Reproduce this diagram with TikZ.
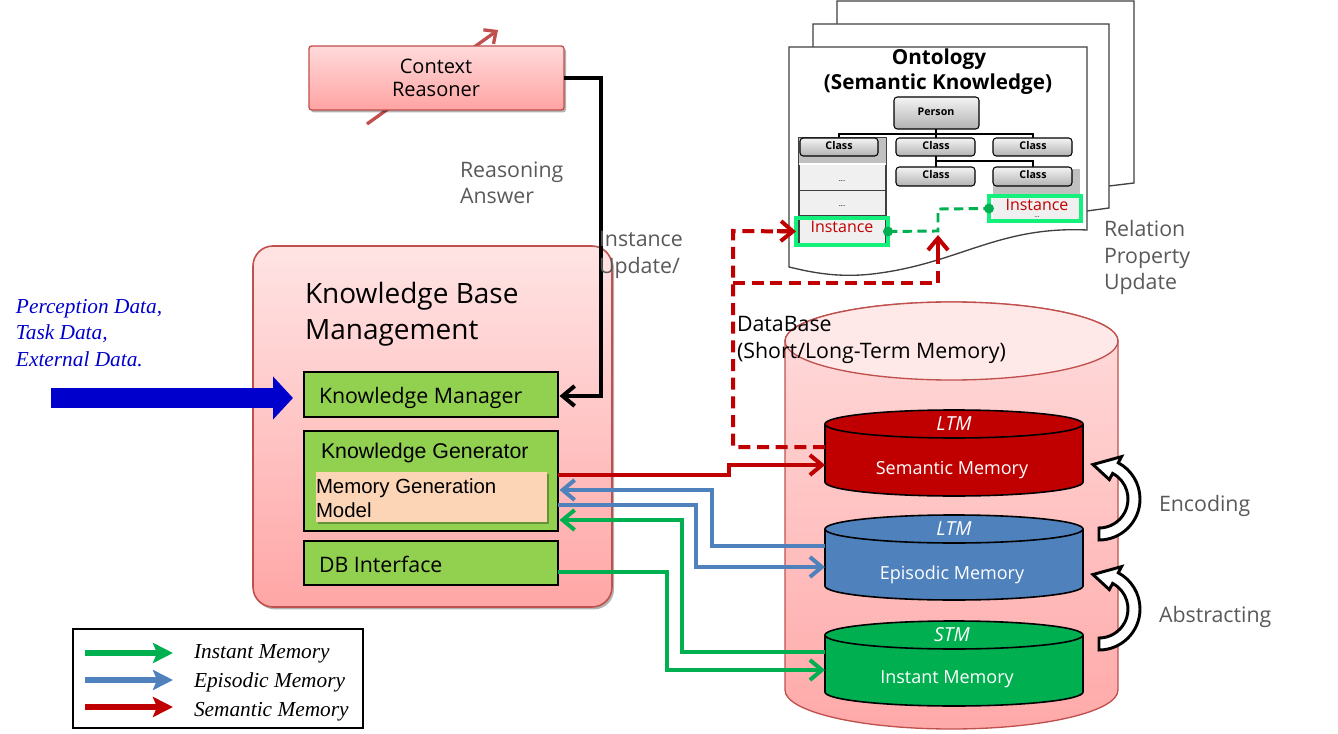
\documentclass[tikz,border=0pt]{standalone}
\usepackage{fontspec}
\setmainfont{Open Sans}
\newfontfamily\arialf{Liberation Sans}
\newfontfamily\timesf{Liberation Serif}
\usetikzlibrary{arrows.meta,shadows,fit,calc}
\newcommand{\fsz}[1]{\fontsize{#1}{#1}\selectfont}
\definecolor{crim}{HTML}{C00000}
\definecolor{epiblue}{HTML}{4F81BD}
\definecolor{instgreen}{HTML}{00B050}
\definecolor{kgreen}{HTML}{92D050}
\definecolor{peach}{HTML}{FBD5B5}
\definecolor{pinkedge}{HTML}{C0504D}
\definecolor{txtgray}{HTML}{595959}
\definecolor{brightgreen}{HTML}{14F07C}
\definecolor{navy}{HTML}{0000CC}
\definecolor{crtop}{HTML}{FFDADA}
\definecolor{crbot}{HTML}{FFA3A3}
\definecolor{kbtop}{HTML}{FFE4E4}
\definecolor{kbbot}{HTML}{FFA6A6}
\definecolor{dbtop}{HTML}{FFDCDC}
\definecolor{dbbot}{HTML}{FFA9A9}
\definecolor{dbell}{HTML}{FFE8E8}
\definecolor{clstop}{HTML}{F4F4F4}
\definecolor{clsbot}{HTML}{B2B2B2}
\definecolor{cellgray}{HTML}{F0F0F0}
\definecolor{bandgray}{HTML}{C0C0C0}
\definecolor{pagegray}{HTML}{404040}
\newcommand{\memcyl}[3]{%
  \filldraw[fill=#1,draw=black,line width=1.2pt] (825,#2) -- (825,#3)
    arc[start angle=180,end angle=0,x radius=129,y radius=14] -- (1083,#2)
    arc[start angle=0,end angle=-180,x radius=129,y radius=14] -- cycle;
  \draw[black,line width=1.2pt] (825,#2) arc[start angle=180,end angle=0,x radius=129,y radius=14];}
\newcommand{\loopdart}[1]{%
  \filldraw[fill=white,draw=black,line width=2.2pt,line join=miter]
    ($(1099,#1)+(90:41)$) arc[start angle=90,end angle=-62,radius=41]
    -- ($(1099,#1)+(-62:48)$) -- ($(1099,#1)+(-100:35)$) -- ($(1099,#1)+(-62:22)$)
    -- ($(1099,#1)+(-62:29)$) arc[start angle=-62,end angle=90,radius=29] -- cycle;}
\begin{document}
\begin{tikzpicture}[x=0.75pt,y=-0.75pt,
  every node/.style={inner sep=0pt,outer sep=0pt},
  shad/.style={drop shadow={shadow xshift=1.5pt,shadow yshift=-1.8pt,opacity=0.3,fill=black}},
  gbox/.style={fill=kgreen,draw=black,line width=1.5pt},
  cls/.style={draw=black,line width=0.8pt,rounded corners=2.5pt,top color=clstop,bottom color=clsbot},
  tree/.style={draw=black,line width=0.8pt},
  page/.style={fill=white,draw=pagegray,line width=1pt},
  barb/.style={-{Straight Barb[length=9pt,width=15pt]}},
  semc/.style={line width=3pt,barb,draw=crim},
  epic/.style={line width=3pt,barb,draw=epiblue},
  instc/.style={line width=3pt,barb,draw=instgreen},
  reddash/.style={draw=crim,line width=3pt,dash pattern=on 9pt off 5pt},
  grndash/.style={draw=instgreen,line width=2.2pt,dash pattern=on 7pt off 4pt},
  gtxt/.style={text=txtgray,font=\fsz{16},anchor=base west},
  btxt/.style={font=\fsz{16},anchor=base west},
  legtxt/.style={font=\timesf\itshape\fsz{16},anchor=base west},
  cylt/.style={text=white,font=\fsz{13.5}},
  ltmt/.style={text=white,font=\itshape\fsz{14.5}},
  insttxt/.style={text=crim,font=\fsz{12},anchor=base},
  clstxt/.style={font=\bfseries\fsz{8}},
]
\useasboundingbox (0,0) rectangle (1338,734);

% ---------- ontology pages ----------
\filldraw[page] (837,1) -- (1134,1) -- (1134,183) -- (1109,186) -- (837,186) -- cycle;
\filldraw[page] (813,24) -- (1109,24) -- (1109,208) -- (1087,211) -- (813,211) -- cycle;
\filldraw[page] (789,47) -- (1087,47) -- (1087,230)
  .. controls (1000,226) and (960,262) .. (880,273)
  .. controls (840,279) and (810,272) .. (789,267) -- cycle;
\node[font=\bfseries\fsz{15.5},anchor=base] (ontt) at (939,65) {Ontology};
\node[font=\bfseries\fsz{15.5},anchor=base] (onts) at (938,90) {(Semantic Knowledge)};

% tree lines
\draw[tree] (936,129) -- (936,134);
\draw[tree] (839,138) -- (839,134) -- (1033,134) -- (1033,138);
\draw[tree] (936,134) -- (936,138);
\draw[tree] (936,156) -- (936,167);
\draw[tree] (936,161) -- (1033,161) -- (1033,167);

% left column
\node[fit={(799,138)(886,245)},fill=cellgray,draw=black!75,line width=0.8pt] (col1) {};
\fill[bandgray] (799,138) rectangle (886,163);
\draw[white,line width=1.2pt] (799,164) -- (886,164);
\draw[black!75,line width=0.8pt] (799,190.5) -- (886,190.5);
\draw[black!75,line width=0.8pt] (799,216) -- (886,216);
\node[font=\fsz{6}] (dot1) at (842,181) {...};
\node[font=\fsz{6}] (dot2) at (842,206) {...};
% right column
\fill[bandgray] (993,169) rectangle (1080,195);
\node[fit={(993,195)(1080,221)},fill=cellgray] (col2) {};

\node[cls,fit={(894,97)(979,129)}] (person) {};
\node[clstxt] at (936,112) {Person};
\node[cls,fit={(800,138)(878,156)}] (c1) {};
\node[clstxt] at (839,146) {Class};
\node[cls,fit={(896,138)(975,156)}] (c2) {};
\node[clstxt] at (936,146) {Class};
\node[cls,fit={(993,138)(1072,156)}] (c3) {};
\node[clstxt] at (1033,146) {Class};
\node[cls,fit={(896,167)(975,186)}] (c4) {};
\node[clstxt] at (936,175) {Class};
\node[cls,fit={(993,167)(1072,186)}] (c5) {};
\node[clstxt] at (1033,175) {Class};

\node[fit={(796,218)(888,245)},draw=brightgreen,line width=2.3pt] (inst1) {};
\node[insttxt] at (842,233) {Instance};
\node[fit={(989,196)(1081,221)},draw=brightgreen,line width=2.3pt] (inst2) {};
\node[font=\fsz{5}] (dot3) at (1037,217.5) {...};
\node[insttxt] at (1037,210.5) {Instance};

% ---------- context reasoner ----------
\coordinate (crA) at (367,124);
\coordinate (crB) at (498,30);
\draw[draw=pinkedge,line width=2.5pt,-{Straight Barb[length=7pt,width=13pt]}] (crA) -- (crB);
\node[fit={(309,46)(564,110)},rounded corners=2pt,draw=pinkedge,line width=1pt,
      top color=crtop,bottom color=crbot,shad] (cr) {};
\node[font=\fsz{15},anchor=base] at (436,74) {Context};
\node[font=\fsz{15},anchor=base] at (436,97) {Reasoner};

% ---------- knowledge base management ----------
\node[fit={(253,246)(612,607)},rounded corners=15pt,draw=pinkedge,line width=1.2pt,
      top color=kbtop,bottom color=kbbot,shad] (kbm) {};
\node[font=\fsz{21},anchor=base west] at (305,303) {Knowledge Base};
\node[font=\fsz{21},anchor=base west] at (305,339) {Management};

\node[gbox,fit={(304,372)(558,417)}] (km) {};
\node[btxt] at (319,403) {Knowledge Manager};
\node[gbox,fit={(304,431)(558,531)}] (kg) {};
\node[font=\arialf\fsz{16},anchor=base west] at (321,458) {Knowledge Generator};
\node[fit={(316,472)(547,522)},fill=peach,shad] (mgm) {};
\node[font=\arialf\fsz{15.3},anchor=base west] at (316,493) {Memory Generation};
\node[font=\arialf\fsz{15.3},anchor=base west] at (316,517) {Model};
\node[gbox,fit={(304,541)(558,585)}] (dbi) {};
\node[btxt] at (319,572) {DB Interface};

% ---------- inputs ----------
\node[legtxt,text=navy] at (16,313) {Perception Data,};
\node[legtxt,text=navy] at (16,339) {Task Data,};
\node[legtxt,text=navy] at (16,366) {External Data.};
\coordinate (pdsrc) at (51,398);
\coordinate (pdtip) at (293,398);
\draw[line width=15pt,draw=navy,-{Triangle[length=15pt,width=31.5pt]}] (pdsrc) -- (pdtip);

% ---------- database ----------
\shadedraw[top color=dbtop,bottom color=dbbot,draw=pinkedge,line width=1pt]
  (785,341) -- (785,690) arc[start angle=180,end angle=0,x radius=166.5,y radius=39]
  -- (1118,341) arc[start angle=0,end angle=-180,x radius=166.5,y radius=39] -- cycle;
\filldraw[fill=dbell,draw=pinkedge,line width=1pt] (951.5,341) ellipse[x radius=166.5,y radius=39];
\node[btxt] (dbt1) at (737,331) {DataBase};
\node[btxt] (dbt2) at (737,358) {(Short/Long-Term Memory)};

\memcyl{crim}{424}{482}
\memcyl{epiblue}{529}{586}
\memcyl{instgreen}{635}{692}
\node[ltmt] at (954,424) {LTM};
\node[cylt] at (952,470) {Semantic Memory};
\node[ltmt] at (954,529) {LTM};
\node[cylt] at (952,575) {Episodic Memory};
\node[ltmt] at (952,635) {STM};
\node[cylt] at (947,679) {Instant Memory};

\coordinate (semIn) at (825,465);
\coordinate (semDash) at (825,447);
\coordinate (epiOut) at (825,546);
\coordinate (epiIn) at (825,567);
\coordinate (instOut) at (825,652);
\coordinate (instIn) at (825,670);

% ---------- memory connectors ----------
\draw[semc] ($(kg.east)+(0,-6)$) -- (729,475) -- (729,465) -- (semIn);
\draw[epic] (epiOut) -- (712,546) -- (712,490) -- ($(kg.east)+(1.5,9)$);
\draw[epic] ($(kg.east)+(0,24)$) -- (696,505) -- (696,567) -- (epiIn);
\draw[instc] (instOut) -- (682,652) -- (682,520) -- ($(kg.east)+(1.5,39)$);
\draw[instc] ($(dbi.east)+(0,9)$) -- (667,572) -- (667,670) -- (instIn);

% ---------- black reasoning connector ----------
\draw[line width=3pt,-{Straight Barb[length=9pt,width=15pt]}] (cr.east) -- (601,78) -- (601,396) -- ($(km.east)+(1.5,1.5)$);
\node[gtxt] at (460,178) {Reasoning};
\node[gtxt] at (460,204) {Answer};
\node[gtxt] at (599,247) {Instance};
\node[gtxt] at (599,273) {Update/};

% ---------- ontology update connectors ----------
\coordinate (gj) at (938,231);
\draw[reddash] (semDash) -- (733,447) -- (733,231) -- (inst1.west);
\draw[crim,line width=3pt,-{Straight Barb[length=9pt,width=15pt]}] (777,231) -- (inst1.west);
\draw[reddash] (733,283) -- (938,283) -- (938,250);
\draw[crim,line width=3pt,-{Straight Barb[length=9pt,width=15pt]}] (938,252) -- ($(gj)+(0,4)$);
\draw[grndash] (inst1.east) -- (gj) -- (938,209) -- (inst2.west);
\fill[instgreen] (inst1.east) circle[radius=5];
\fill[instgreen] (inst2.west) circle[radius=5];
\node[gtxt] at (1104,237) {Relation};
\node[gtxt] at (1104,263) {Property};
\node[gtxt] at (1104,290) {Update};

% ---------- encoding / abstracting ----------
\loopdart{499}
\loopdart{609}
\node[gtxt] at (1159,511) {Encoding};
\node[gtxt] at (1159,622) {Abstracting};

% ---------- legend ----------
\node[fit={(73,629)(363,728)},draw=black,line width=1.5pt] (legend) {};
\coordinate (lg1a) at (85,653); \coordinate (lg1b) at (173,653);
\coordinate (lg2a) at (85,680); \coordinate (lg2b) at (173,680);
\coordinate (lg3a) at (85,707); \coordinate (lg3b) at (173,707);
\draw[line width=4.5pt,draw=instgreen,-{Stealth[length=15pt,width=15pt,inset=3pt]}] (lg1a) -- (lg1b);
\draw[line width=4.5pt,draw=epiblue,-{Stealth[length=15pt,width=15pt,inset=3pt]}] (lg2a) -- (lg2b);
\draw[line width=4.5pt,draw=crim,-{Stealth[length=15pt,width=15pt,inset=3pt]}] (lg3a) -- (lg3b);
\node[legtxt] at (194,658) {Instant Memory};
\node[legtxt] at (194,687) {Episodic Memory};
\node[legtxt] at (194,716) {Semantic Memory};
\end{tikzpicture}
\end{document}
